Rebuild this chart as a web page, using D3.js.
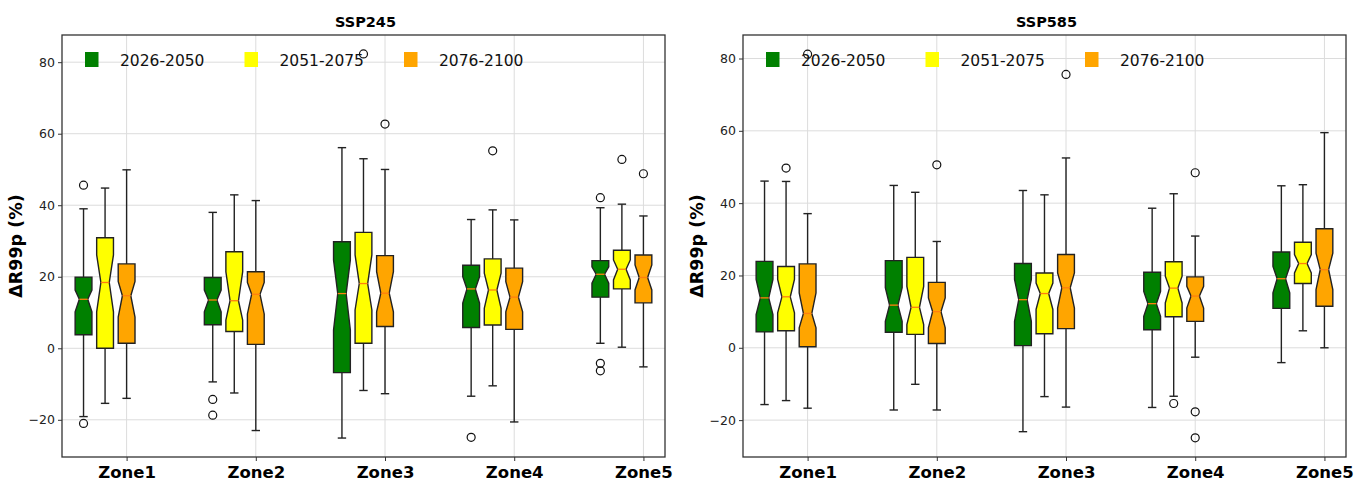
<!DOCTYPE html>
<html>
<head>
<meta charset="utf-8">
<title>ΔR99p boxplots SSP245 / SSP585</title>
<script src="https://d3js.org/d3.v7.min.js"></script>
<style>
	body{
		margin: 0;
		background: #fff;
	}
	svg{
		display: block;
		font-family: "DejaVu Sans", sans-serif;
	}
</style>
</head>
<body>
<script>
	// categories
	var zones = ['Zone1', 'Zone2', 'Zone3', 'Zone4', 'Zone5']
	var periods = ['2026-2050', '2051-2075', '2076-2100']
	var periodColors = ['green', 'yellow', 'orange']
	var yTicks = [-20, 0, 20, 40, 60, 80]

	// box stats per zone, in period order: [whiskLo, q1, notchLo, median, notchHi, q3, whiskHi]
	var ssp245Boxes = [
		[[-19.1, 3.8, 10.2, 13.7, 16.3, 19.9, 39.0], [-15.4, 0.0, 10.2, 18.4, 26.1, 30.9, 44.8], [-14.0, 1.4, 8.7, 14.7, 18.7, 23.6, 49.9]],
		[[-9.4, 6.6, 10.2, 13.5, 16.3, 19.8, 38.0], [-12.5, 4.7, 7.9, 13.3, 21.4, 27.0, 42.9], [-23.0, 1.1, 9.6, 15.1, 18.4, 21.4, 41.3]],
		[[-25.1, -6.8, 5.1, 15.3, 24.7, 29.8, 56.1], [-11.8, 1.4, 10.7, 18.1, 26.1, 32.4, 53.0], [-12.7, 6.1, 10.2, 15.4, 21.4, 25.9, 50.0]],
		[[-13.4, 5.8, 12.6, 16.6, 20.0, 23.2, 36.0], [-10.5, 6.5, 11.2, 16.3, 21.0, 25.0, 38.7], [-20.6, 5.3, 10.2, 14.3, 18.6, 22.4, 35.9]],
		[[1.4, 14.3, 18.2, 20.7, 22.8, 24.5, 39.3], [0.3, 16.6, 19.1, 22.1, 24.7, 27.4, 40.3], [-5.2, 12.7, 16.3, 19.8, 23.3, 26.1, 37.0]]
	]
	var ssp245Outliers = [
		[[45.6, -21.0], [], []],
		[[-14.3, -18.7], [], []],
		[[], [82.3], [62.7]],
		[[-24.9], [55.2], []],
		[[42.1, -4.2, -6.3], [52.8], [48.8]]
	]

	var ssp585Boxes = [
		[[-15.7, 4.4, 9.2, 13.8, 18.9, 23.9, 46.1], [-14.6, 4.7, 9.7, 14.1, 18.9, 22.5, 46.0], [-16.7, 0.3, 5.5, 9.5, 15.2, 23.2, 37.1]],
		[[-17.2, 4.3, 7.3, 11.8, 16.6, 24.1, 44.9], [-10.1, 3.7, 6.4, 11.2, 17.0, 25.0, 43.0], [-17.2, 1.2, 5.5, 10.0, 13.8, 18.1, 29.4]],
		[[-23.2, 0.6, 7.3, 13.3, 18.9, 23.3, 43.5], [-13.5, 3.9, 10.6, 15.0, 17.9, 20.7, 42.3], [-16.4, 5.3, 11.0, 16.6, 20.7, 25.8, 52.5]],
		[[-16.5, 5.0, 8.7, 12.2, 15.6, 20.9, 38.6], [-13.4, 8.6, 12.4, 16.5, 19.8, 23.8, 42.6], [-2.6, 7.3, 11.0, 14.3, 17.0, 19.6, 30.9]],
		[[-4.1, 10.9, 15.2, 19.1, 22.5, 26.5, 44.8], [4.7, 17.8, 20.7, 23.3, 25.8, 29.2, 45.1], [0.0, 11.5, 16.1, 21.6, 26.2, 32.9, 59.5]]
	]
	var ssp585Outliers = [
		[[], [49.7], [81.2]],
		[[], [], [50.6]],
		[[], [], [75.6]],
		[[], [-15.4], [48.4, -17.7, -24.9]],
		[[], [], []]
	]

	var W = 1371, H = 486
	var svg = d3.select('body').append('svg')
		.attr('width', W)
		.attr('height', H)

	var panels = [
		{title: 'SSP245', boxes: ssp245Boxes, outliers: ssp245Outliers, left: 62, right: 665, yDomain: [-30.4, 87.6]},
		{title: 'SSP585', boxes: ssp585Boxes, outliers: ssp585Outliers, left: 743, right: 1346, yDomain: [-30.2, 86.5]}
	]
	var plotTop = 35, plotBottom = 457
	var boxW = 0.13
	var offsets = [-1/3, -1/6, 0]

	panels.forEach(function(p){
		var g = svg.append('g')
		var x = d3.scaleLinear().domain([0.5, 5.167]).range([p.left, p.right])
		var y = d3.scaleLinear().domain(p.yDomain).range([plotBottom, plotTop])

		// grid
		g.append('g').selectAll('line').data(yTicks).enter()
			.append('line')
			.attr('x1', p.left).attr('x2', p.right)
			.attr('y1', d => y(d)).attr('y2', d => y(d))
			.attr('stroke', '#dcdcdc').attr('stroke-width', 1)
		g.append('g').selectAll('line').data(zones).enter()
			.append('line')
			.attr('x1', (d, i) => x(i + 1)).attr('x2', (d, i) => x(i + 1))
			.attr('y1', plotTop).attr('y2', plotBottom)
			.attr('stroke', '#dcdcdc').attr('stroke-width', 1)

		// axes
		var yAxis = d3.axisLeft(y).tickValues(yTicks).tickSize(4).tickPadding(3)
			.tickFormat(d => d < 0 ? '\u2212' + Math.abs(d) : d)
		var ya = g.append('g').attr('transform', 'translate(' + p.left + ',0)').call(yAxis)
		ya.select('.domain').remove()
		ya.selectAll('text').attr('font-size', 12.5).attr('fill', '#222').attr('font-family', '"DejaVu Sans", sans-serif')
		ya.selectAll('line').attr('stroke', '#333')

		var xAxis = d3.axisBottom(x).tickValues([1, 2, 3, 4, 5]).tickSize(4).tickPadding(5)
			.tickFormat(d => zones[d - 1])
		var xa = g.append('g').attr('transform', 'translate(0,' + plotBottom + ')').call(xAxis)
		xa.select('.domain').remove()
		xa.selectAll('text').attr('font-size', 16.5).attr('font-weight', 'bold').attr('fill', '#000')
			.attr('font-family', '"DejaVu Sans", sans-serif')
		xa.selectAll('line').attr('stroke', '#333')

		// boxes
		p.boxes.forEach(function(zoneBoxes, zi){
			zoneBoxes.forEach(function(s, pi){
				var cx = zi + 1 + offsets[pi]
				var l = cx - boxW / 2, r = cx + boxW / 2
				var nl = cx - boxW / 4, nr = cx + boxW / 4
				var bg = g.append('g')
				// whiskers
				bg.append('line').attr('x1', x(cx)).attr('x2', x(cx)).attr('y1', y(s[1])).attr('y2', y(s[0]))
					.attr('stroke', '#222').attr('stroke-width', 1.4)
				bg.append('line').attr('x1', x(cx)).attr('x2', x(cx)).attr('y1', y(s[5])).attr('y2', y(s[6]))
					.attr('stroke', '#222').attr('stroke-width', 1.4)
				bg.append('line').attr('x1', x(nl)).attr('x2', x(nr)).attr('y1', y(s[0])).attr('y2', y(s[0]))
					.attr('stroke', '#222').attr('stroke-width', 1.4)
				bg.append('line').attr('x1', x(nl)).attr('x2', x(nr)).attr('y1', y(s[6])).attr('y2', y(s[6]))
					.attr('stroke', '#222').attr('stroke-width', 1.4)
				// notched box
				var pts = [[l, s[1]], [r, s[1]], [r, s[2]], [nr, s[3]], [r, s[4]], [r, s[5]],
					[l, s[5]], [l, s[4]], [nl, s[3]], [l, s[2]]]
				bg.append('path')
					.attr('d', d3.line().x(d => x(d[0])).y(d => y(d[1]))(pts) + 'Z')
					.attr('fill', periodColors[pi])
					.attr('stroke', '#222').attr('stroke-width', 1.4)
				bg.append('line').attr('x1', x(nl)).attr('x2', x(nr)).attr('y1', y(s[3])).attr('y2', y(s[3]))
					.attr('stroke', '#ff7f0e').attr('stroke-width', 1.3)
				// fliers
				bg.selectAll('circle').data(p.outliers[zi][pi]).enter()
					.append('circle')
					.attr('cx', x(cx)).attr('cy', d => y(d)).attr('r', 4)
					.attr('fill', 'none').attr('stroke', '#111').attr('stroke-width', 1.2)
			})
		})

		// frame
		g.append('rect')
			.attr('x', p.left).attr('y', plotTop)
			.attr('width', p.right - p.left).attr('height', plotBottom - plotTop)
			.attr('fill', 'none').attr('stroke', '#333').attr('stroke-width', 1.3)

		// title
		g.append('text')
			.attr('x', (p.left + p.right) / 2 + 2).attr('y', 27)
			.attr('text-anchor', 'middle')
			.attr('font-size', 14.5).attr('font-weight', 'bold')
			.text(p.title)

		// y label
		g.append('text')
			.attr('transform', 'translate(' + (p.left - 40) + ',' + ((plotTop + plotBottom) / 2) + ') rotate(-90)')
			.attr('text-anchor', 'middle')
			.attr('font-size', 17.5).attr('font-weight', 'bold')
			.text('\u0394R99p (%)')

		// legend
		var lg = g.append('g').attr('transform', 'translate(' + (p.left + 23) + ',52)')
		periods.forEach(function(name, i){
			var item = lg.append('g').attr('transform', 'translate(' + (i * 159.5) + ',0)')
			item.append('rect').attr('x', 0).attr('y', 0).attr('width', 13.5).attr('height', 15)
				.attr('fill', periodColors[i])
			item.append('text').attr('x', 35).attr('y', 14)
				.attr('font-size', 15.5).attr('fill', '#111')
				.text(name)
		})
	})
</script>
</body>
</html>
